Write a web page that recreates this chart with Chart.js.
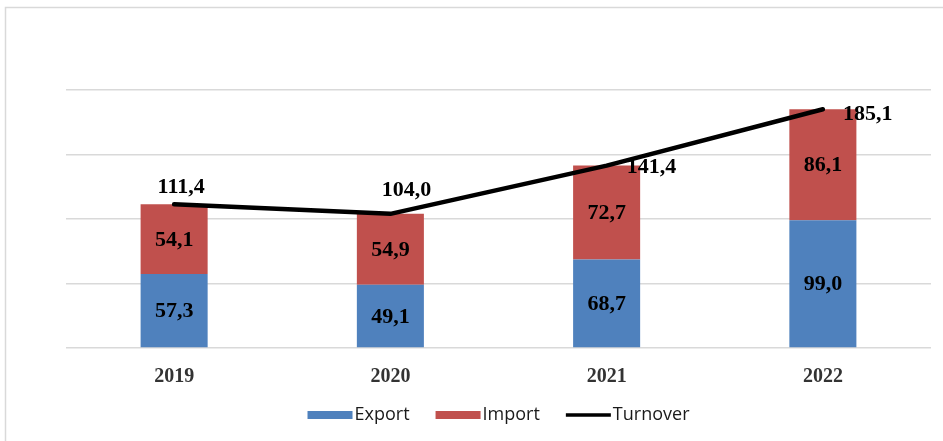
<!DOCTYPE html>
<html>
<head>
<meta charset="utf-8">
<script src="https://cdn.jsdelivr.net/npm/chart.js@4/dist/chart.umd.min.js"></script>
<style>
  html, body { margin: 0; padding: 0; background: #ffffff; }
  #wrap { width: 943px; height: 441px; position: relative; }
</style>
</head>
<body>
<div id="wrap"><canvas id="c" width="943" height="441"></canvas></div>
<script>
// Trade figures by year
const categories = ['2019', '2020', '2021', '2022'];
const exportValues = [57.3, 49.1, 68.7, 99.0];
const importValues = [54.1, 54.9, 72.7, 86.1];
const turnoverValues = [111.4, 104.0, 141.4, 185.1];
const yTicks = [0, 50, 100, 150, 200];

const seriesNames = ['Export', 'Import', 'Turnover'];
const colors = { export: '#4F81BD', import: '#C0504D', turnover: '#000000' };

const fmt = v => v.toFixed(1).replace('.', ',');
const LABEL_FONT = 'bold 22px "Liberation Serif", "Times New Roman", serif';

// Outer frame of the chart
const framePlugin = {
  id: 'frame',
  beforeDraw(chart) {
    const ctx = chart.ctx;
    ctx.save();
    ctx.fillStyle = '#ffffff';
    ctx.fillRect(0, 0, chart.width, chart.height);
    ctx.strokeStyle = '#d9d9d9';
    ctx.lineWidth = 1.5;
    ctx.strokeRect(5.5, 7.5, chart.width + 20, chart.height + 20);
    ctx.restore();
  }
};

// Value labels: bar segments centred, turnover labels near each point
const turnoverLabelPos = [
  { dx: 7, dy: -17, align: 'center' },
  { dx: 16, dy: -24, align: 'center' },
  { dx: 20, dy: 2, align: 'left' },
  { dx: 20, dy: 5, align: 'left' }
];
const valueLabelPlugin = {
  id: 'valueLabels',
  beforeDatasetDraw(chart, args) {
    if (args.index !== 2) return;
    const ctx = chart.ctx;
    ctx.save();
    ctx.font = LABEL_FONT;
    ctx.fillStyle = '#000000';
    ctx.textBaseline = 'middle';
    [0, 1].forEach(di => {
      const meta = chart.getDatasetMeta(di);
      const data = chart.data.datasets[di].data;
      meta.data.forEach((bar, i) => {
        ctx.textAlign = 'center';
        ctx.fillText(fmt(data[i]), bar.x, (bar.y + bar.base) / 2 + 1);
      });
    });
    const lineMeta = chart.getDatasetMeta(2);
    lineMeta.data.forEach((pt, i) => {
      const p = turnoverLabelPos[i];
      ctx.textAlign = p.align;
      ctx.fillText(fmt(turnoverValues[i]), pt.x + p.dx, pt.y + p.dy);
    });
    ctx.restore();
  }
};

// Legend along the bottom
const legendPlugin = {
  id: 'bottomLegend',
  afterDraw(chart) {
    const ctx = chart.ctx;
    const area = chart.chartArea;
    ctx.save();
    ctx.font = '18px "Open Sans", "Liberation Sans", sans-serif';
    ctx.textBaseline = 'middle';
    const boxW = 45, gapText = 2, gapItem = 26;
    const items = chart.data.datasets.map(ds => ({
      text: ds.label,
      color: ds.type === 'line' ? ds.borderColor : ds.backgroundColor,
      line: ds.type === 'line'
    }));
    let total = 0;
    items.forEach((it, i) => {
      it.w = ctx.measureText(it.text).width;
      total += boxW + gapText + it.w + (i < items.length - 1 ? gapItem : 0);
    });
    let x = (area.left + area.right) / 2 - total / 2;
    const y = 415;
    items.forEach(it => {
      ctx.fillStyle = it.color;
      if (it.line) ctx.fillRect(x, y - 1.75, boxW, 3.5);
      else ctx.fillRect(x, y - 4, boxW, 8);
      ctx.fillStyle = '#1a1a1a';
      ctx.textAlign = 'left';
      ctx.fillText(it.text, x + boxW + gapText, y);
      x += boxW + gapText + it.w + gapItem;
    });
    ctx.restore();
  }
};

new Chart(document.getElementById('c'), {
  data: {
    labels: categories,
    datasets: [
      {
        type: 'bar', label: seriesNames[0], data: exportValues,
        backgroundColor: colors.export, stack: 's', order: 1,
        categoryPercentage: 1, barPercentage: 0.31
      },
      {
        type: 'bar', label: seriesNames[1], data: importValues,
        backgroundColor: colors.import, stack: 's', order: 1,
        categoryPercentage: 1, barPercentage: 0.31
      },
      {
        type: 'line', label: seriesNames[2], data: turnoverValues,
        borderColor: colors.turnover, backgroundColor: colors.turnover,
        borderWidth: 4.5, pointRadius: 0, tension: 0, order: 0,
        borderCapStyle: 'round', borderJoinStyle: 'round'
      }
    ]
  },
  options: {
    responsive: false,
    animation: false,
    devicePixelRatio: 1,
    layout: { padding: { left: 66, right: 12, top: 90, bottom: 0 } },
    plugins: { legend: { display: false }, tooltip: { enabled: false } },
    scales: {
      x: {
        stacked: true,
        grid: { display: false },
        border: { display: false },
        ticks: {
          color: '#333333',
          font: { family: '"Liberation Serif", "Times New Roman", serif', size: 20, weight: 'bold' },
          padding: 9
        },
        afterFit(scale) { scale.height = 93; }
      },
      y: {
        stacked: true,
        min: yTicks[0],
        max: yTicks[yTicks.length - 1],
        afterBuildTicks(scale) { scale.ticks = yTicks.map(v => ({ value: v })); },
        grid: { color: '#d9d9d9', lineWidth: 1.5, drawTicks: false },
        border: { display: false },
        ticks: { display: false },
        afterFit(scale) { scale.width = 0; }
      }
    }
  },
  plugins: [framePlugin, valueLabelPlugin, legendPlugin]
});
</script>
</body>
</html>
